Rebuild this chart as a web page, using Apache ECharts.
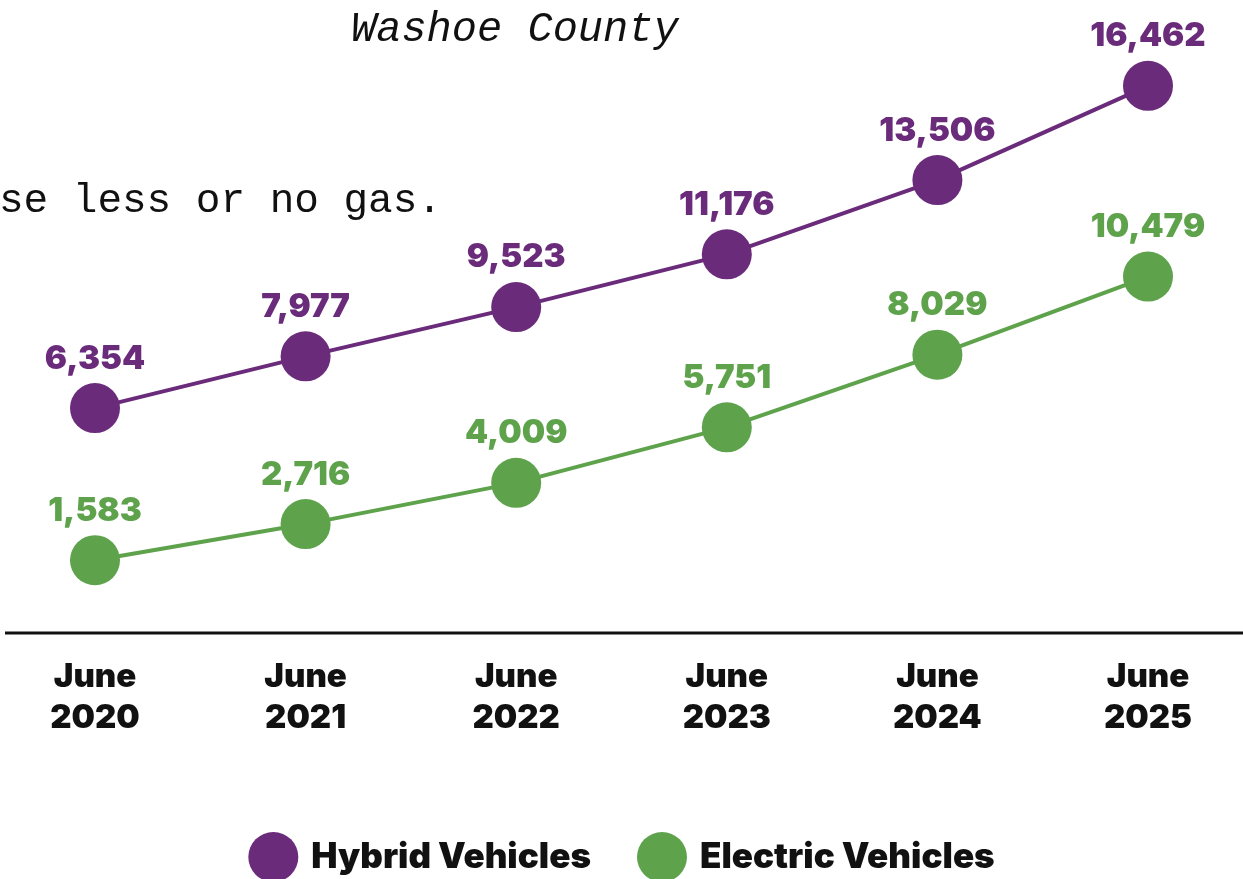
<!DOCTYPE html>
<html>
<head>
<meta charset="utf-8">
<script src="https://cdn.jsdelivr.net/npm/echarts@6/dist/echarts.min.js"></script>
<style>
  html, body { margin: 0; padding: 0; background: #fff; }
  #main { width: 1243px; height: 879px; }
</style>
</head>
<body>
<div id="main"></div>
<script>
// data
var years = ['June\n2020', 'June\n2021', 'June\n2022', 'June\n2023', 'June\n2024', 'June\n2025'];
var hybrid = [6354, 7977, 9523, 11176, 13506, 16462];
var electric = [1583, 2716, 4009, 5751, 8029, 10479];

var PURPLE = '#6a2b7b';
var GREEN = '#5ea34c';
var FONT = 'Inter';

var chart = echarts.init(document.getElementById('main'));

function fmt(p) {
  return p.value.toLocaleString('en-US');
}

var option = {
  backgroundColor: '#fff',
  animation: false,
  title: [
    {
      text: 'Washoe County',
      left: 346,
      top: 4,
      textStyle: {
        fontFamily: 'Liberation Mono',
        fontStyle: 'italic',
        fontWeight: 'normal',
        fontSize: 42,
        color: '#111'
      }
    },
    {
      text: 'se less or no gas.',
      left: -6,
      top: 176,
      textStyle: {
        fontFamily: 'Liberation Mono',
        fontWeight: 'normal',
        fontSize: 41,
        color: '#111'
      }
    }
  ],
  legend: {
    top: 827,
    left: 'center',
    icon: 'circle',
    itemWidth: 50,
    itemHeight: 50,
    itemGap: 46,
    textStyle: {
      fontFamily: FONT,
      fontWeight: 900,
      fontSize: 35,
      color: '#111',
      padding: [0, 0, 0, 8]
    },
    data: ['Hybrid Vehicles', 'Electric Vehicles']
  },
  grid: {
    left: 95,
    right: 95,
    top: 40,
    bottom: 246
  },
  xAxis: {
    type: 'category',
    data: years,
    boundaryGap: false,
    axisLine: { show: false },
    axisTick: { show: false },
    axisLabel: {
      margin: 24,
      fontFamily: FONT,
      fontWeight: 900,
      fontSize: 33,
      lineHeight: 41,
      color: '#111'
    }
  },
  yAxis: {
    type: 'value',
    min: -700,
    max: 17900,
    show: false,
    splitLine: { show: false }
  },
  graphic: [
    {
      type: 'line',
      shape: { x1: 5, y1: 633, x2: 1243, y2: 633 },
      style: { stroke: '#111', lineWidth: 3 }
    }
  ],
  series: [
    {
      name: 'Hybrid Vehicles',
      type: 'line',
      data: hybrid,
      symbol: 'circle',
      symbolSize: 50,
      color: PURPLE,
      lineStyle: { width: 4, color: PURPLE },
      itemStyle: { color: PURPLE },
      label: {
        show: true,
        position: 'top',
        distance: 8,
        formatter: fmt,
        fontFamily: FONT,
        fontWeight: 900,
        fontSize: 33,
        color: PURPLE
      }
    },
    {
      name: 'Electric Vehicles',
      type: 'line',
      data: electric,
      symbol: 'circle',
      symbolSize: 50,
      color: GREEN,
      lineStyle: { width: 4, color: GREEN },
      itemStyle: { color: GREEN },
      label: {
        show: true,
        position: 'top',
        distance: 8,
        formatter: fmt,
        fontFamily: FONT,
        fontWeight: 900,
        fontSize: 33,
        color: GREEN
      }
    }
  ]
};

chart.setOption(option);
</script>
</body>
</html>
